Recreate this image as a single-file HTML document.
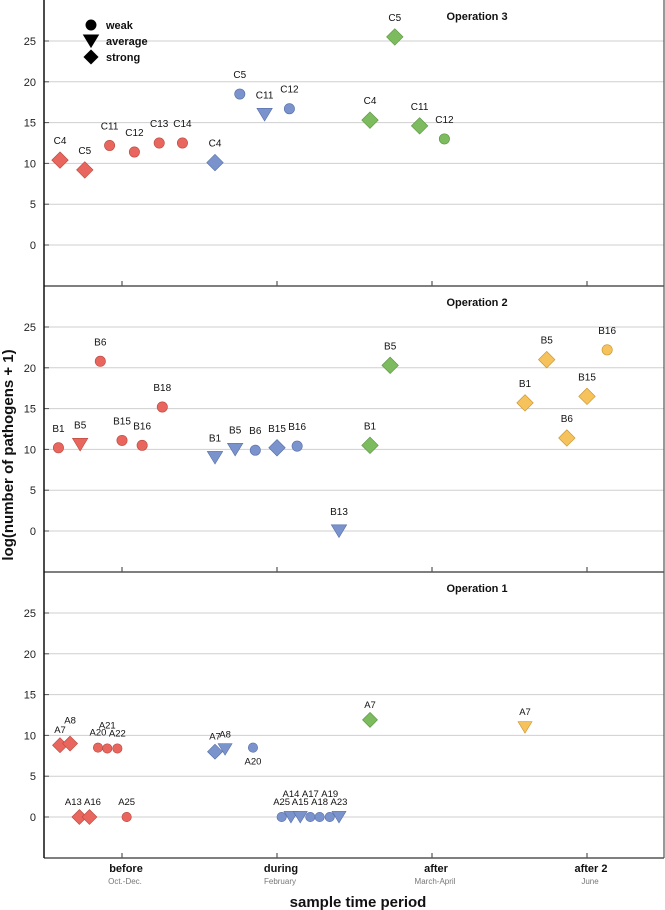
<!DOCTYPE html>
<html><head><meta charset="utf-8">
<style>
html,body{margin:0;padding:0;background:#fff;}
svg{display:block;font-family:"Liberation Sans",Arial,sans-serif;}
</style></head>
<body>
<svg id="chart" width="665" height="910" viewBox="0 0 665 910" xmlns="http://www.w3.org/2000/svg">
</svg>
<script>
// ---- data ----
const categories = ["before","during","after","after 2"];
const subLabels = ["Oct.-Dec.","February","March-April","June"];
const panelTitles = ["Operation 3","Operation 2","Operation 1"];
const yTicks = [0,5,10,15,20,25];
const op3Labels = ["C4","C5","C11","C12","C13","C14","C4","C5","C11","C12","C4","C5","C11","C12"];
const op3X = [-0.40,-0.24,-0.08,0.08,0.24,0.39,0.60,0.76,0.92,1.08,1.60,1.76,1.92,2.08];
const op3Y = [10.4,9.2,12.2,11.4,12.5,12.5,10.1,18.5,16.0,16.7,15.3,25.5,14.6,13.0];
const op3Shape = ["d","d","c","c","c","c","d","c","t","c","d","d","d","c"];
const op3Period = [0,0,0,0,0,0,1,1,1,1,2,2,2,2];

const op2Labels = ["B1","B5","B6","B15","B16","B18","B1","B5","B6","B15","B16","B13","B1","B5","B1","B5","B6","B15","B16"];
const op2X = [-0.41,-0.27,-0.14,0,0.13,0.26,0.60,0.73,0.86,1.0,1.13,1.40,1.60,1.73,2.60,2.74,2.87,3.0,3.13];
const op2Y = [10.2,10.6,20.8,11.1,10.5,15.2,9.0,10.0,9.9,10.2,10.4,0.0,10.5,20.3,15.7,21.0,11.4,16.5,22.2];
const op2Shape = ["c","t","c","c","c","c","t","t","c","d","c","t","d","d","d","d","d","d","c"];
const op2Period = [0,0,0,0,0,0,1,1,1,1,1,1,2,2,3,3,3,3,3];

const op1Labels = ["A7","A8","A20","A21","A22","A13","A16","A25","A7","A8","A20","A25","A14","A15","A17","A18","A19","A23","A7","A7"];
const op1X = [-0.40,-0.335,-0.155,-0.095,-0.03,-0.275,-0.21,0.03,0.60,0.665,0.845,1.03,1.09,1.15,1.215,1.275,1.34,1.40,1.60,2.60];
const op1Y = [8.8,9.0,8.5,8.4,8.4,0,0,0,8.0,8.3,8.5,0,0,0,0,0,0,0,11.9,11.0];
const op1Shape = ["d","d","c","c","c","d","d","c","d","t","c","c","t","t","c","c","c","t","d","t"];
const op1Period = [0,0,0,0,0,0,0,0,1,1,1,1,1,1,1,1,1,1,2,3];
const op1Lift = [0,1,0,1,0,0,0,0,0,0,-1,0,1,0,1,0,1,0,0,0];

const colors = ["#e8665e","#7b93cc","#7dbb5f","#f5c25c"];
const strokes = ["#b9483f","#566fa8","#5a9440","#c99430"];

// ---- layout ----
const svg = document.getElementById('chart');
const NS = "http://www.w3.org/2000/svg";
const L = 44, R = 664, panelH = 286.5, panelTops = [0,286,572];
const xScale = c => 122 + c*155;
const yScale = (p,v) => panelTops[p] + 245 - v*8.16;
function mk(tag, attrs, parent){ const e=document.createElementNS(NS,tag); for(const k in attrs) e.setAttribute(k,attrs[k]); (parent||svg).appendChild(e); return e; }

for(let p=0;p<3;p++){
  const g = mk('g',{});
  
  
  yTicks.forEach(t=>{
    const y=yScale(p,t);
    const gl=mk('line',{x1:L,x2:R,y1:y,y2:y,stroke:'#cfcfcf','stroke-width':1},g);
    
    
    mk('line',{x1:L,x2:L+5,y1:y,y2:y,stroke:'#555','stroke-width':1},g);
    const tl=mk('text',{x:L-8,y:y+4,'text-anchor':'end','font-size':11,fill:'#222'},g);
    tl.textContent=t;
    
    
  });
  const bot = panelTops[p]+panelH-0.5;
  mk('line',{x1:L,x2:R,y1:bot,y2:bot,stroke:'#555','stroke-width':1.6},g);
  categories.forEach((c,i)=>{ mk('line',{x1:xScale(i),x2:xScale(i),y1:bot-5,y2:bot,stroke:'#555','stroke-width':1.2},g); });
  const tt=mk('text',{x:477,y:panelTops[p]+20,'text-anchor':'middle','font-size':11,'font-weight':'bold',fill:'#111'},g);
  tt.textContent=panelTitles[p];
  
  
}
mk('line',{x1:L,x2:L,y1:0,y2:858,stroke:'#111','stroke-width':1.5});
mk('line',{x1:R,x2:R,y1:0,y2:858,stroke:'#555','stroke-width':1.2});

function drawShape(shape,x,y,fill,stroke,size,parent){
  let e;
  if(shape==='c') e=mk('circle',{cx:x,cy:y,r:size*0.47,fill,stroke,'stroke-width':0.6},parent);
  else if(shape==='t'){ const s=size*0.7; e=mk('polygon',{points:`${x-s},${y-s*0.8} ${x+s},${y-s*0.8} ${x},${y+s*0.85}`,fill,stroke,'stroke-width':0.6},parent);}
  else { const s=size*0.75; e=mk('polygon',{points:`${x},${y-s} ${x+s},${y} ${x},${y+s} ${x-s},${y}`,fill,stroke,'stroke-width':0.6},parent);}
  return e;
}

const sets=[[op3Labels,op3X,op3Y,op3Shape,op3Period,null],[op2Labels,op2X,op2Y,op2Shape,op2Period,null],[op1Labels,op1X,op1Y,op1Shape,op1Period,op1Lift]];
sets.forEach((s,p)=>{
  const [lab,xs,ys,sh,per,lift]=s;
  lab.forEach((l,i)=>{
    const x=xScale(xs[i]), y=yScale(p,ys[i]);
    const small = p===2;
    const m=drawShape(sh[i],x,y,colors[per[i]],strokes[per[i]],small?10:11);
    
    
    const lv = lift?lift[i]:0;
    let ly = lv===-1 ? y+17 : y-(small?12:16)-lv*8;
    let lx = x;
    if(p===2 && (l==='A13')) lx = x-6;
    if(p===2 && (l==='A16')) lx = x+3;
    const t=mk('text',{x:lx,y:ly,'text-anchor':'middle','font-size':small?9.5:10,fill:'#111'});
    t.textContent=l;
    
    
  });
});

// legend
const lg=mk('g',{});


[['c','weak',25],['t','average',41],['d','strong',57]].forEach(([s,n,y])=>{
  drawShape(s,91,y,'#000','#000',s==='d'?9.5:11,lg);
  const t=mk('text',{x:106,y:y+4,'font-size':11,'font-weight':'bold',fill:'#111'},lg);
  t.textContent=n;
  
  
});

categories.forEach((c,i)=>{
  const t=mk('text',{x:xScale(i)+4,y:872,'text-anchor':'middle','font-size':11,'font-weight':'bold',fill:'#111'});
  t.textContent=c;
  
  
  const s=mk('text',{x:xScale(i)+3,y:884,'text-anchor':'middle','font-size':8,fill:'#777'});
  s.textContent=subLabels[i];
  
  
});
const xt=mk('text',{x:358,y:907,'text-anchor':'middle','font-size':15,'font-weight':'bold',fill:'#111'});
xt.textContent='sample time period';


const yt=mk('text',{x:0,y:0,'text-anchor':'middle','font-size':15,'font-weight':'bold',fill:'#111',transform:'translate(13,455) rotate(-90)'});
yt.textContent='log(number of pathogens + 1)';


</script>
</body></html>
